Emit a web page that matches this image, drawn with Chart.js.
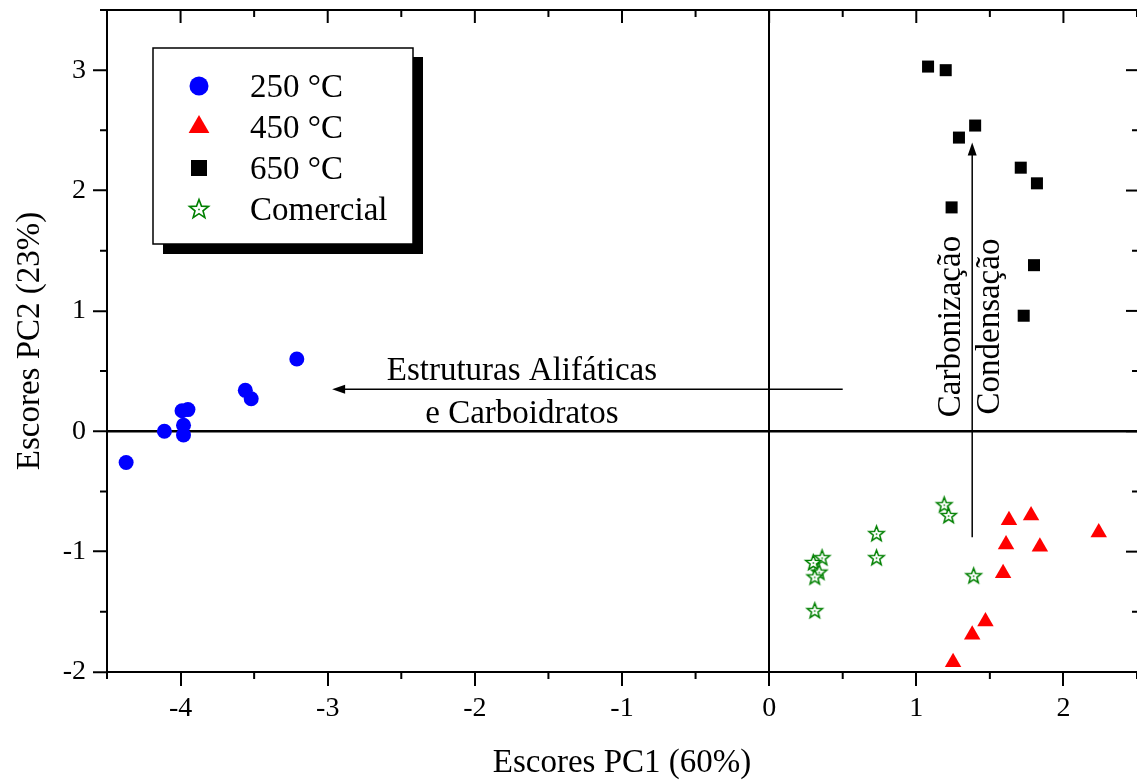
<!DOCTYPE html>
<html>
<head>
<meta charset="utf-8">
<script src="https://cdn.jsdelivr.net/npm/chart.js@4.4.0/dist/chart.umd.min.js"></script>
<style>body{margin:0;background:#fff}</style>
</head>
<body>
<canvas id="grafico" width="1137" height="780"></canvas>
<script>
// escores PC1 / PC2 por temperatura
const pc1_250 = [-4.37, -4.11, -3.99, -3.95, -3.98, -3.98, -3.56, -3.52, -3.21]
const pc2_250 = [-0.26, 0.00, 0.17, 0.18, 0.05, -0.03, 0.34, 0.27, 0.60]

const pc1_450 = [1.25, 1.38, 1.47, 1.59, 1.61, 1.63, 1.78, 1.84, 2.24]
const pc2_450 = [-1.92, -1.69, -1.58, -1.18, -0.94, -0.74, -0.70, -0.96, -0.84]

const pc1_650 = [1.08, 1.20, 1.40, 1.29, 1.71, 1.82, 1.24, 1.80, 1.73]
const pc2_650 = [3.03, 3.00, 2.54, 2.44, 2.19, 2.06, 1.86, 1.38, 0.96]

const pc1_com = [1.19, 1.22, 0.73, 0.73, 0.36, 0.30, 0.34, 0.31, 0.31, 1.39]
const pc2_com = [-0.61, -0.70, -0.85, -1.05, -1.05, -1.09, -1.17, -1.21, -1.49, -1.20]

const legendas = ["250 °C", "450 °C", "650 °C", "Comercial"]
const xTicks = [-4, -3, -2, -1, 0, 1, 2]
const yTicks = [-2, -1, 0, 1, 2, 3]

const fonte = "'Liberation Serif', 'Times New Roman', serif"
Chart.defaults.font.family = fonte
Chart.defaults.color = "#000"

function pares(xs, ys){
  return xs.map((x, i) => ({x: x, y: ys[i]}))
}

// estrela vazada (o Chart.js nao tem estrela de 5 pontas)
function fazEstrela(R, lw){
  const s = Math.ceil(2*R + lw*2 + 2)
  const c = document.createElement("canvas")
  c.width = s; c.height = s
  const g = c.getContext("2d")
  const cx = s/2, cy = s/2 + 0.5
  g.beginPath()
  for(let i = 0; i < 10; i++){
    const a = -Math.PI/2 + i*Math.PI/5
    const rr = i % 2 ? R*0.42 : R
    g.lineTo(cx + rr*Math.cos(a), cy + rr*Math.sin(a))
  }
  g.closePath()
  g.fillStyle = "#fff"; g.fill()
  g.strokeStyle = "#008000"; g.lineWidth = lw; g.stroke()
  g.fillStyle = "#008000"; g.fillRect(cx - 0.75, cy - 0.75, 1.5, 1.5)
  return c
}
const estrela = fazEstrela(8, 1.5)
const estrelaGrande = fazEstrela(10, 1.6)

function seta(ctx, x1, y1, x2, y2){
  const ang = Math.atan2(y2 - y1, x2 - x1)
  ctx.beginPath()
  ctx.moveTo(x1, y1)
  ctx.lineTo(x2 - 10*Math.cos(ang), y2 - 10*Math.sin(ang))
  ctx.stroke()
  ctx.beginPath()
  ctx.moveTo(x2, y2)
  ctx.lineTo(x2 - 13*Math.cos(ang) + 4.5*Math.sin(ang), y2 - 13*Math.sin(ang) - 4.5*Math.cos(ang))
  ctx.lineTo(x2 - 13*Math.cos(ang) - 4.5*Math.sin(ang), y2 - 13*Math.sin(ang) + 4.5*Math.cos(ang))
  ctx.closePath()
  ctx.fill()
}

const extras = {
  id: "extras",
  afterDatasetsDraw(chart){
    const ctx = chart.ctx
    const sx = chart.scales.x, sy = chart.scales.y
    const a = chart.chartArea
    ctx.save()
    ctx.strokeStyle = "#000"; ctx.fillStyle = "#000"

    // eixo de cima + ticks menores/maiores
    ctx.lineWidth = 2
    ctx.beginPath(); ctx.moveTo(a.left, a.top); ctx.lineTo(a.right, a.top); ctx.stroke()
    for(let v = sx.min; v <= sx.max + 1e-9; v += 0.5){
      const px = sx.getPixelForValue(v)
      const maior = Math.abs(v - Math.round(v)) < 1e-9
      ctx.beginPath()
      ctx.moveTo(px, a.bottom); ctx.lineTo(px, a.bottom + (maior ? 0 : 7))
      ctx.moveTo(px, a.top); ctx.lineTo(px, a.top + (maior ? 13 : 7))
      ctx.stroke()
    }
    for(let v = -2; v <= sy.max + 1e-9; v += 0.5){
      const py = sy.getPixelForValue(v)
      const maior = Math.abs(v - Math.round(v)) < 1e-9
      ctx.beginPath()
      ctx.moveTo(a.left, py); ctx.lineTo(a.left - (maior ? 0 : 7), py)
      ctx.moveTo(a.right, py); ctx.lineTo(a.right - (maior ? 11 : 5), py)
      ctx.stroke()
    }

    // setas
    ctx.lineWidth = 1.5
    seta(ctx, sx.getPixelForValue(0.50), sy.getPixelForValue(0.35), sx.getPixelForValue(-2.97), sy.getPixelForValue(0.35))
    seta(ctx, sx.getPixelForValue(1.38), sy.getPixelForValue(-0.88), sx.getPixelForValue(1.38), sy.getPixelForValue(2.40))

    ctx.font = "33px " + fonte
    ctx.textAlign = "center"
    ctx.textBaseline = "alphabetic"
    ctx.fillText("Estruturas Alifáticas", sx.getPixelForValue(-1.68), sy.getPixelForValue(0.43))
    ctx.fillText("e Carboidratos", sx.getPixelForValue(-1.68), sy.getPixelForValue(0.07))

    const yc = sy.getPixelForValue(0.87)
    ctx.save()
    ctx.translate(sx.getPixelForValue(1.297), yc)
    ctx.rotate(-Math.PI/2)
    ctx.fillText("Carbonização", 0, 0)
    ctx.restore()
    ctx.save()
    ctx.translate(sx.getPixelForValue(1.565), yc)
    ctx.rotate(-Math.PI/2)
    ctx.fillText("Condensação", 0, 0)
    ctx.restore()

    ctx.restore()
  },
  afterDraw(chart){
    // legenda com sombra
    const ctx = chart.ctx
    ctx.save()
    ctx.fillStyle = "#000"
    ctx.fillRect(163, 57, 260, 197)
    ctx.fillStyle = "#fff"
    ctx.fillRect(153, 48, 260, 196)
    ctx.strokeStyle = "#000"; ctx.lineWidth = 1.5
    ctx.strokeRect(153, 48, 260, 196)

    const mx = 199
    const linhas = [86, 127, 168, 209]
    ctx.fillStyle = "#0000ff"
    ctx.beginPath(); ctx.arc(mx, linhas[0], 9.5, 0, Math.PI*2); ctx.fill()
    ctx.fillStyle = "#ff0000"
    ctx.beginPath()
    ctx.moveTo(mx, linhas[1] - 12)
    ctx.lineTo(mx + 10.4, linhas[1] + 6)
    ctx.lineTo(mx - 10.4, linhas[1] + 6)
    ctx.closePath(); ctx.fill()
    ctx.fillStyle = "#000"
    ctx.fillRect(mx - 8, linhas[2] - 8, 16, 16)
    ctx.drawImage(estrelaGrande, mx - estrelaGrande.width/2, linhas[3] - estrelaGrande.height/2)

    ctx.fillStyle = "#000"
    ctx.font = "33px " + fonte
    ctx.textAlign = "left"
    ctx.textBaseline = "alphabetic"
    legendas.forEach((t, i) => ctx.fillText(t, 250, linhas[i] + 11))
    ctx.restore()
  }
}

const grafico = new Chart("grafico", {
  type: "scatter",
  data: {
    datasets: [{
      label: legendas[0],
      data: pares(pc1_250, pc2_250),
      pointStyle: "circle",
      pointRadius: 7.5,
      backgroundColor: "#0000ff",
      borderColor: "#0000ff",
      borderWidth: 0
    },{
      label: legendas[1],
      data: pares(pc1_450, pc2_450),
      pointStyle: "triangle",
      pointRadius: 9.5,
      backgroundColor: "#ff0000",
      borderColor: "#ff0000",
      borderWidth: 0
    },{
      label: legendas[2],
      data: pares(pc1_650, pc2_650),
      pointStyle: "rect",
      pointRadius: 8.5,
      backgroundColor: "#000",
      borderColor: "#000",
      borderWidth: 0
    },{
      label: legendas[3],
      data: pares(pc1_com, pc2_com),
      pointStyle: estrela,
      pointRadius: 8,
      backgroundColor: "#fff",
      borderColor: "#008000"
    }]
  },
  options: {
    responsive: false,
    animation: false,
    layout: { autoPadding: false, padding: { top: 10, right: 0, left: 0, bottom: 0 } },
    plugins: {
      legend: { display: false },
      tooltip: { enabled: false }
    },
    scales: {
      x: {
        min: -4.5,
        max: 2.5,
        afterBuildTicks: s => { s.ticks = xTicks.map(v => ({value: v})) },
        afterFit: s => { s.height = 108; s.paddingLeft = 0; s.paddingRight = 0 },
        ticks: { font: { size: 28 }, padding: 6, maxRotation: 0, color: "#000" },
        grid: {
          color: c => (c.tick && c.tick.value === 0) ? "#000" : "rgba(0,0,0,0)",
          lineWidth: 2,
          tickColor: "#000",
          tickWidth: 2,
          tickLength: 14
        },
        border: { display: true, color: "#000", width: 2 },
        title: {
          display: true,
          text: "Escores PC1 (60%)",
          font: { size: 33, lineHeight: 1 },
          padding: { top: 0, bottom: 0 },
          color: "#000"
        }
      },
      y: {
        min: -2,
        max: 3.5,
        afterBuildTicks: s => { s.ticks = yTicks.map(v => ({value: v})) },
        afterFit: s => { s.width = 107; s.paddingTop = 0; s.paddingBottom = 0 },
        ticks: { font: { size: 28 }, padding: 7, color: "#000" },
        grid: {
          color: c => (c.tick && c.tick.value === 0) ? "#000" : "rgba(0,0,0,0)",
          lineWidth: 2.5,
          tickColor: "#000",
          tickWidth: 2,
          tickLength: 14
        },
        border: { display: true, color: "#000", width: 2 },
        title: {
          display: true,
          text: "Escores PC2 (23%)",
          font: { size: 33, lineHeight: 1 },
          padding: { top: 14, bottom: 0 },
          color: "#000"
        }
      }
    }
  },
  plugins: [extras]
})
</script>
</body>
</html>
